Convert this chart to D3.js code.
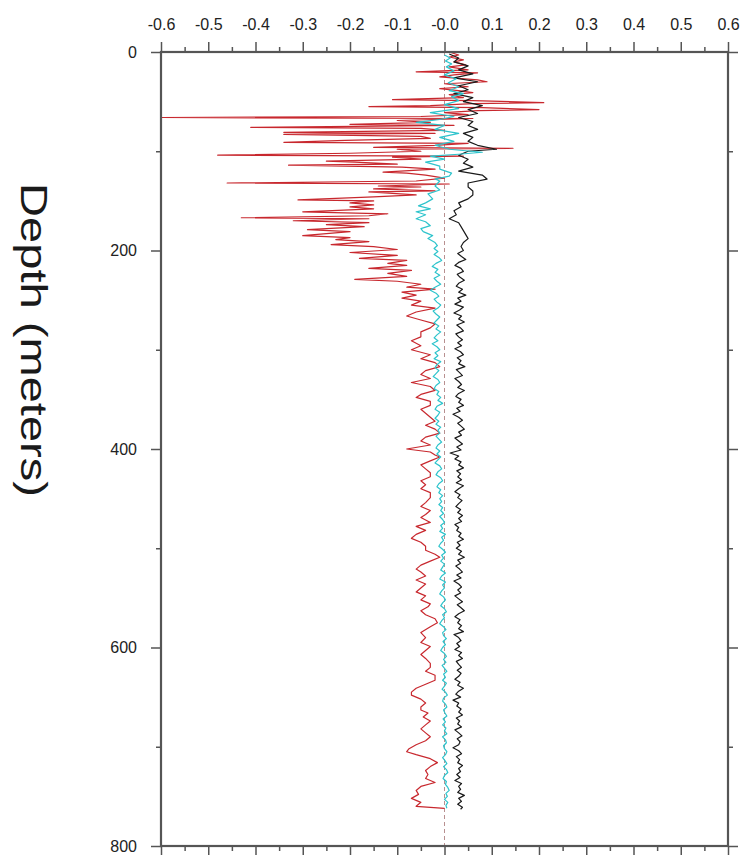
<!DOCTYPE html>
<html>
<head>
<meta charset="utf-8">
<script src="https://cdn.jsdelivr.net/npm/d3@7"></script>
<style>
  body { margin: 0; background: #fff; }
  svg { display: block; }
</style>
</head>
<body>
<svg id="chart"></svg>
<script>
var width = 745;
var height = 855;
var margin = {left: 161, right: 17, top: 52, bottom: 9};

// x ticks and labels (top axis)
var xMajorTicks = [-0.6, -0.5, -0.4, -0.3, -0.2, -0.1, 0, 0.1, 0.2, 0.3, 0.4, 0.5, 0.6];
var xTickLabels = ["-0.6", "-0.5", "-0.4", "-0.3", "-0.2", "-0.1", "-0.0", "0.1", "0.2", "0.3", "0.4", "0.5", "0.6"];
var xMinorTicks = [-0.55, -0.45, -0.35, -0.25, -0.15, -0.05, 0.05, 0.15, 0.25, 0.35, 0.45, 0.55];
var yMajorTicks = [0, 200, 400, 600, 800];
var yMinorTicks = [100, 300, 500, 700];

// [depth (m), value]
var redProfile = [
    [0, 0.01], [3, 0.03], [5, 0.01], [8, 0.04], [10, 0.02], [13, 0.045], [15, 0.01], [18, 0.05],
    [20, -0.06], [21, 0.07], [23, 0.02], [25, -0.01], [28, 0.07], [30, 0.09], [32, 0.0], [35, 0.05],
    [37, -0.01], [39, 0.03], [41, 0.06], [43, 0.01], [46, 0.04], [48, -0.11], [49, 0.06], [51, 0.21],
    [52, 0.06], [54, -0.03], [55, -0.16], [56, 0.08], [58, 0.20], [59, 0.07], [61, 0.0], [63, 0.05],
    [65, -0.05], [66, -0.6], [67, 0.06], [69, -0.1], [71, -0.03], [73, -0.2], [74, 0.02], [76, -0.41],
    [77, -0.05], [79, 0.0], [81, -0.34], [82, -0.02], [83, -0.34], [85, -0.05], [87, -0.03], [89, -0.21],
    [91, -0.34], [92, 0.05], [94, -0.02], [96, -0.15], [97, 0.145], [98, -0.1], [100, -0.05], [102, -0.2],
    [104, -0.48], [105, 0.04], [106, -0.11], [108, -0.05], [110, -0.25], [111, -0.19], [113, -0.10], [114, -0.33],
    [116, -0.09], [118, -0.02], [121, -0.13], [122, -0.08], [124, -0.04], [127, 0.0], [130, -0.06], [132, -0.46],
    [133, 0.01], [135, -0.14], [136, -0.05], [138, -0.15], [140, -0.02], [141, -0.16], [144, -0.06], [146, -0.15],
    [149, -0.31], [150, -0.15], [152, -0.2], [154, -0.15], [156, -0.2], [158, -0.15], [161, -0.3], [163, -0.12],
    [165, -0.16], [167, -0.43], [168, -0.16], [170, -0.32], [172, -0.16], [174, -0.25], [176, -0.17], [179, -0.29],
    [181, -0.2], [183, -0.25], [185, -0.3], [187, -0.2], [189, -0.23], [191, -0.16], [194, -0.24], [196, -0.15],
    [199, -0.1], [202, -0.2], [205, -0.1], [208, -0.18], [210, -0.08], [213, -0.12], [215, -0.08], [218, -0.16],
    [220, -0.07], [223, -0.12], [226, -0.08], [229, -0.19], [231, -0.1], [234, -0.05], [237, -0.08], [239, -0.02],
    [242, -0.09], [245, -0.06], [248, -0.09], [251, -0.05], [255, -0.07], [258, -0.02], [262, -0.06], [266, -0.08],
    [270, -0.05], [274, -0.02], [278, -0.03], [282, -0.05], [287, -0.05], [291, -0.07], [296, -0.05], [300, -0.07],
    [305, -0.03], [309, -0.05], [313, -0.02], [317, -0.01], [321, -0.04], [325, -0.05], [329, -0.03], [333, -0.07],
    [337, -0.03], [341, -0.02], [345, -0.05], [348, -0.06], [352, -0.03], [356, -0.03], [360, -0.05], [364, -0.04],
    [368, -0.03], [372, -0.02], [376, -0.04], [380, -0.02], [384, -0.01], [388, -0.04], [392, -0.05], [396, -0.03],
    [400, -0.08], [403, -0.03], [406, -0.02], [408, -0.01], [412, -0.03], [416, -0.05], [420, -0.04], [424, -0.03],
    [428, -0.03], [432, -0.05], [436, -0.04], [440, -0.05], [444, -0.03], [449, -0.03], [454, -0.04], [458, -0.05],
    [462, -0.03], [466, -0.04], [469, -0.05], [474, -0.03], [478, -0.06], [482, -0.04], [486, -0.06], [490, -0.07],
    [494, -0.05], [498, -0.04], [502, -0.04], [506, -0.02], [509, -0.01], [513, -0.03], [517, -0.05], [521, -0.06],
    [524, -0.05], [528, -0.04], [532, -0.06], [536, -0.04], [540, -0.05], [544, -0.06], [548, -0.04], [552, -0.05],
    [556, -0.03], [559, -0.035], [563, -0.05], [567, -0.04], [571, -0.02], [575, -0.015], [579, -0.03], [585, -0.05],
    [590, -0.04], [595, -0.05], [599, -0.03], [603, -0.04], [607, -0.05], [611, -0.04], [616, -0.03], [620, -0.03],
    [624, -0.04], [628, -0.02], [633, -0.02], [637, -0.04], [641, -0.06], [645, -0.07], [648, -0.07], [652, -0.05],
    [656, -0.04], [660, -0.05], [663, -0.05], [666, -0.035], [670, -0.045], [674, -0.03], [678, -0.04], [682, -0.05],
    [686, -0.04], [690, -0.03], [694, -0.04], [698, -0.06], [702, -0.075], [705, -0.08], [708, -0.06], [712, -0.03],
    [716, -0.015], [720, -0.03], [724, -0.04], [728, -0.035], [732, -0.04], [736, -0.02], [740, -0.05], [744, -0.06],
    [748, -0.055], [752, -0.07], [756, -0.05], [760, -0.06], [762, 0.0]
];

var blackProfile = [
    [2, 0.01], [6, 0.03], [10, 0.02], [14, 0.05], [18, 0.03], [22, 0.06], [26, 0.02], [30, 0.07],
    [34, 0.03], [38, 0.05], [42, 0.02], [46, 0.06], [50, 0.04], [54, 0.08], [58, 0.05], [62, 0.07],
    [66, 0.03], [70, 0.06], [74, 0.05], [78, 0.07], [82, 0.04], [86, 0.06], [90, 0.05], [94, 0.07],
    [98, 0.11], [100, 0.05], [104, 0.03], [108, 0.05], [112, 0.04], [116, 0.06], [120, 0.03], [124, 0.08],
    [128, 0.09], [132, 0.05], [136, 0.05], [140, 0.06], [144, 0.06], [148, 0.05], [152, 0.03], [156, 0.035],
    [160, 0.02], [164, 0.025], [168, 0.01], [172, 0.03], [176, 0.035], [180, 0.04], [184, 0.045], [188, 0.05],
    [192, 0.04], [196, 0.035], [200, 0.04], [203, 0.028], [206, 0.036], [209, 0.045], [212, 0.03], [215, 0.022],
    [218, 0.035], [221, 0.04], [224, 0.027], [227, 0.033], [230, 0.042], [233, 0.03], [236, 0.025], [239, 0.038],
    [242, 0.03], [245, 0.045], [248, 0.028], [251, 0.035], [254, 0.022], [257, 0.04], [260, 0.032], [263, 0.02],
    [266, 0.036], [269, 0.03], [272, 0.042], [275, 0.026], [278, 0.034], [281, 0.04], [284, 0.024], [287, 0.03],
    [290, 0.038], [293, 0.028], [296, 0.036], [299, 0.022], [302, 0.034], [305, 0.04], [308, 0.027], [311, 0.035],
    [314, 0.03], [317, 0.043], [320, 0.025], [323, 0.032], [326, 0.038], [329, 0.022], [332, 0.03], [335, 0.036],
    [338, 0.028], [341, 0.042], [344, 0.03], [347, 0.024], [350, 0.035], [353, 0.03], [356, 0.04], [359, 0.026],
    [362, 0.033], [365, 0.018], [368, 0.03], [371, 0.038], [374, 0.028], [377, 0.035], [380, 0.042], [383, 0.03],
    [386, 0.036], [389, 0.022], [392, 0.03], [395, 0.038], [398, 0.026], [401, 0.035], [404, 0.012], [407, 0.03],
    [410, 0.022], [413, 0.035], [416, 0.03], [419, 0.04], [422, 0.026], [425, 0.034], [428, 0.028], [431, 0.036],
    [434, 0.025], [437, 0.04], [440, 0.03], [443, 0.022], [446, 0.033], [449, 0.028], [452, 0.037], [455, 0.03],
    [458, 0.024], [461, 0.034], [464, 0.028], [467, 0.038], [470, 0.03], [473, 0.036], [476, 0.022], [479, 0.03],
    [482, 0.026], [485, 0.035], [488, 0.03], [491, 0.04], [494, 0.027], [497, 0.033], [500, 0.025], [503, 0.036],
    [506, 0.03], [509, 0.042], [512, 0.028], [515, 0.034], [518, 0.024], [521, 0.032], [524, 0.038], [527, 0.026],
    [530, 0.035], [533, 0.02], [536, 0.03], [539, 0.036], [542, 0.028], [545, 0.034], [548, 0.022], [551, 0.03],
    [554, 0.038], [557, 0.027], [560, 0.035], [563, 0.042], [566, 0.03], [569, 0.022], [572, 0.033], [575, 0.028],
    [578, 0.036], [581, 0.03], [584, 0.04], [587, 0.02], [590, 0.03], [593, 0.035], [596, 0.026], [599, 0.032],
    [602, 0.022], [605, 0.036], [608, 0.03], [611, 0.038], [614, 0.025], [617, 0.03], [620, 0.036], [623, 0.027],
    [626, 0.035], [629, 0.03], [632, 0.022], [635, 0.033], [638, 0.028], [641, 0.04], [644, 0.03], [647, 0.024],
    [650, 0.034], [653, 0.018], [656, 0.03], [659, 0.026], [662, 0.035], [665, 0.03], [668, 0.038], [671, 0.025],
    [674, 0.032], [677, 0.028], [680, 0.036], [683, 0.022], [686, 0.03], [689, 0.037], [692, 0.027], [695, 0.033],
    [698, 0.03], [701, 0.018], [704, 0.03], [707, 0.036], [710, 0.025], [713, 0.032], [716, 0.028], [719, 0.038],
    [722, 0.03], [725, 0.034], [728, 0.026], [731, 0.033], [734, 0.022], [737, 0.036], [740, 0.03], [743, 0.034],
    [746, 0.028], [749, 0.042], [752, 0.03], [755, 0.036], [758, 0.028], [761, 0.038], [763, 0.034]
];

var cyanProfile = [
    [3, 0.0], [6, 0.012], [9, 0.002], [12, 0.015], [15, 0.004], [19, 0.02], [23, 0.0], [27, 0.025],
    [31, 0.008], [35, 0.03], [39, 0.01], [42, 0.04], [45, 0.015], [49, 0.03], [53, 0.0], [57, 0.03],
    [61, -0.03], [65, 0.02], [68, -0.01], [71, -0.06], [74, 0.0], [78, -0.02], [82, 0.03], [86, -0.01],
    [90, 0.02], [94, -0.02], [98, 0.01], [101, 0.08], [103, 0.03], [105, -0.03], [108, 0.0], [111, -0.04],
    [115, -0.01], [118, -0.01], [122, 0.015], [125, 0.01], [128, -0.02], [130, -0.01], [135, -0.02], [139, -0.01],
    [143, -0.035], [148, -0.025], [152, -0.04], [155, -0.055], [158, -0.03], [161, -0.06], [164, -0.04], [168, -0.06],
    [171, -0.04], [175, -0.03], [178, -0.05], [181, -0.045], [185, -0.025], [188, -0.035], [192, -0.02], [195, -0.015],
    [198, -0.022], [201, -0.014], [204, -0.022], [207, -0.012], [210, -0.006], [213, -0.018], [216, -0.026], [219, -0.014],
    [222, -0.02], [225, -0.01], [228, -0.022], [231, -0.016], [234, -0.008], [237, -0.02], [240, -0.03], [243, -0.018],
    [246, -0.012], [249, -0.022], [252, -0.016], [255, -0.008], [258, -0.014], [261, -0.024], [264, -0.018], [267, -0.01],
    [270, -0.016], [273, -0.022], [276, -0.012], [279, -0.018], [282, -0.008], [285, -0.016], [288, -0.022], [291, -0.014],
    [294, -0.026], [297, -0.016], [300, -0.01], [303, -0.02], [306, -0.014], [309, -0.022], [312, -0.008], [315, -0.016],
    [318, -0.02], [321, -0.012], [324, -0.018], [327, -0.024], [330, -0.014], [333, -0.01], [336, -0.018], [339, -0.022],
    [342, -0.012], [345, -0.016], [348, -0.008], [351, -0.014], [354, -0.004], [357, -0.016], [360, -0.02], [363, -0.01],
    [366, -0.014], [369, -0.02], [372, -0.012], [375, -0.018], [378, -0.008], [381, -0.014], [384, -0.01], [387, -0.018],
    [390, -0.012], [393, -0.006], [396, -0.014], [399, -0.018], [402, -0.01], [405, -0.016], [408, -0.008], [411, -0.014],
    [414, -0.02], [417, -0.01], [420, -0.006], [423, -0.014], [426, -0.018], [429, -0.008], [432, -0.004], [435, -0.012],
    [438, -0.016], [441, -0.008], [444, -0.012], [447, -0.004], [450, -0.01], [453, -0.006], [456, -0.012], [459, -0.004],
    [462, -0.008], [465, -0.002], [468, -0.01], [471, -0.004], [474, 0.0], [477, -0.008], [480, -0.004], [483, -0.01],
    [486, 0.002], [489, -0.006], [492, -0.002], [495, -0.008], [498, -0.012], [501, -0.004], [504, 0.002], [507, -0.006],
    [510, -0.002], [513, -0.008], [516, 0.0], [519, -0.004], [522, -0.008], [525, 0.002], [528, -0.006], [531, -0.01],
    [534, 0.002], [537, -0.004], [540, 0.0], [543, -0.006], [546, -0.01], [549, -0.002], [552, 0.002], [555, -0.004],
    [558, -0.008], [561, 0.0], [564, 0.004], [567, -0.004], [570, 0.0], [573, -0.006], [576, -0.01], [579, -0.002],
    [582, 0.003], [585, -0.004], [588, -0.002], [591, 0.004], [594, -0.003], [597, 0.002], [600, -0.004], [603, -0.008],
    [606, 0.0], [609, 0.004], [612, -0.002], [615, 0.003], [618, -0.005], [621, 0.0], [624, 0.005], [627, -0.002],
    [630, 0.002], [633, -0.004], [636, 0.004], [639, 0.0], [642, -0.005], [645, 0.002], [648, 0.006], [651, -0.002],
    [654, -0.004], [657, 0.002], [660, 0.005], [663, -0.002], [666, 0.001], [669, 0.005], [672, -0.003], [675, 0.002],
    [678, -0.004], [681, 0.003], [684, 0.0], [687, 0.005], [690, -0.004], [693, 0.002], [696, 0.004], [699, -0.002],
    [702, 0.0], [705, 0.005], [708, 0.002], [711, -0.004], [714, 0.001], [717, 0.005], [720, -0.002], [723, 0.004],
    [726, 0.007], [729, 0.0], [732, -0.003], [735, 0.004], [738, 0.002], [741, 0.007], [744, 0.01], [747, 0.003],
    [750, 0.006], [753, 0.0], [756, 0.007], [759, 0.003], [762, 0.005]
];

var series = [
    {name: "red", data: redProfile, color: "#c8282e"},
    {name: "black", data: blackProfile, color: "#1a1a1a"},
    {name: "cyan", data: cyanProfile, color: "#2ec4cc"}
];

var svg = d3.select("#chart")
    .attr("width", width)
    .attr("height", height)
    .style("font-family", "'Liberation Sans', Arial, sans-serif");

var x = d3.scaleLinear().domain([-0.6, 0.6]).range([margin.left, width - margin.right]);
var y = d3.scaleLinear().domain([0, 800]).range([margin.top, height - margin.bottom]);

// zero line
svg.append("line")
    .attr("x1", x(0)).attr("x2", x(0))
    .attr("y1", y(0)).attr("y2", y(800))
    .attr("stroke", "#b89090")
    .attr("stroke-width", 1)
    .attr("stroke-dasharray", "4,3");

var line = d3.line()
    .x(function (d) { return x(d[1]); })
    .y(function (d) { return y(d[0]); });

svg.selectAll(".profile")
    .data(series)
    .enter()
    .append("path")
    .attr("class", "profile")
    .attr("d", function (d) { return line(d.data); })
    .attr("fill", "none")
    .attr("stroke", function (d) { return d.color; })
    .attr("stroke-width", 1.2)
    .attr("stroke-linejoin", "round");

// axes: ticks on every side, outward
function styleAxis(g) {
    g.select(".domain").remove();
    g.selectAll(".tick line").attr("stroke", "#555").attr("stroke-width", 1.5);
    g.selectAll(".tick text").attr("fill", "#222").style("font-size", "16px");
}

svg.append("g")
    .attr("transform", "translate(0," + y(0) + ")")
    .call(d3.axisTop(x).tickValues(xMajorTicks).tickSize(10).tickPadding(12)
        .tickFormat(function (d, i) { return xTickLabels[i]; }))
    .call(styleAxis);
svg.append("g")
    .attr("transform", "translate(0," + y(0) + ")")
    .call(d3.axisTop(x).tickValues(xMinorTicks).tickSize(5).tickFormat(""))
    .call(styleAxis);
svg.append("g")
    .attr("transform", "translate(0," + y(800) + ")")
    .call(d3.axisBottom(x).tickValues(xMajorTicks).tickSize(10).tickFormat(""))
    .call(styleAxis);
svg.append("g")
    .attr("transform", "translate(0," + y(800) + ")")
    .call(d3.axisBottom(x).tickValues(xMinorTicks).tickSize(5).tickFormat(""))
    .call(styleAxis);

svg.append("g")
    .attr("transform", "translate(" + x(-0.6) + ",0)")
    .call(d3.axisLeft(y).tickValues(yMajorTicks).tickSize(10).tickPadding(14)
        .tickFormat(d3.format("d")))
    .call(styleAxis);
svg.append("g")
    .attr("transform", "translate(" + x(-0.6) + ",0)")
    .call(d3.axisLeft(y).tickValues(yMinorTicks).tickSize(5).tickFormat(""))
    .call(styleAxis);
svg.append("g")
    .attr("transform", "translate(" + x(0.6) + ",0)")
    .call(d3.axisRight(y).tickValues(yMajorTicks).tickSize(10).tickFormat(""))
    .call(styleAxis);
svg.append("g")
    .attr("transform", "translate(" + x(0.6) + ",0)")
    .call(d3.axisRight(y).tickValues(yMinorTicks).tickSize(5).tickFormat(""))
    .call(styleAxis);

// frame
svg.append("rect")
    .attr("x", x(-0.6)).attr("y", y(0))
    .attr("width", x(0.6) - x(-0.6))
    .attr("height", y(800) - y(0))
    .attr("fill", "none")
    .attr("stroke", "#555")
    .attr("stroke-width", 2.2);

// y title
svg.append("text")
    .attr("transform", "translate(21," + 340 + ") rotate(90)")
    .attr("text-anchor", "middle")
    .attr("textLength", 314)
    .attr("lengthAdjust", "spacingAndGlyphs")
    .style("font-size", "36px")
    .attr("fill", "#1a1a1a")
    .text("Depth (meters)");
</script>
</body>
</html>
